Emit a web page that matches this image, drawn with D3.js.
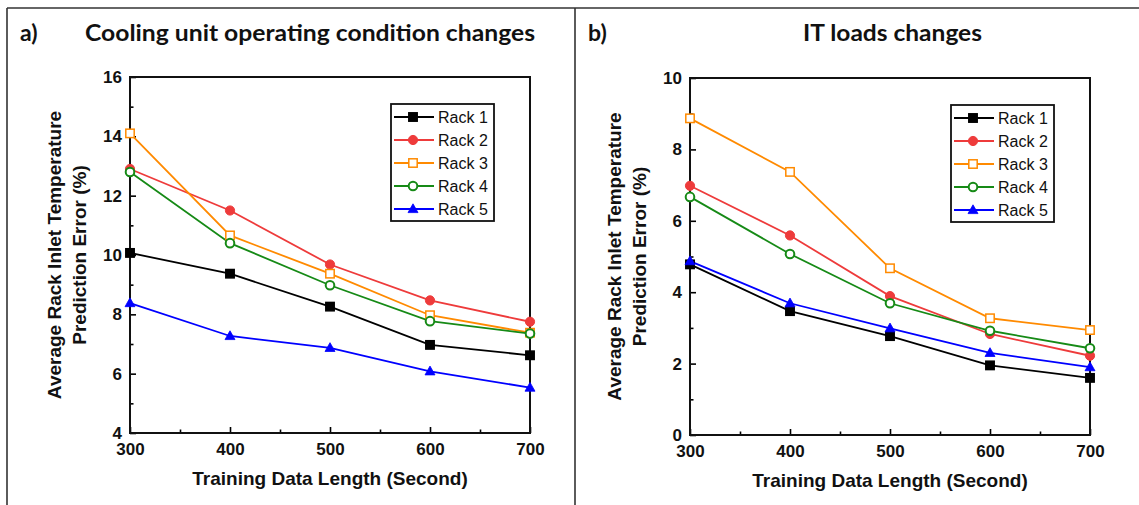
<!DOCTYPE html>
<html><head><meta charset="utf-8">
<script src="https://cdn.jsdelivr.net/npm/d3@7"></script>
<style>body{margin:0;background:#fff}svg{display:block}</style>
</head><body><svg id="c" width="1139" height="505"></svg>
<script>
const xValues = [300, 400, 500, 600, 700];
const xTicks = [300, 400, 500, 600, 700];
const seriesNames = ["Rack 1", "Rack 2", "Rack 3", "Rack 4", "Rack 5"];
const seriesColors = ["#000000", "#ee3b3b", "#ff8a00", "#168a16", "#0000ff"];
const seriesMarkers = ["squareFill", "circleFill", "squareOpen", "circleOpen", "triangleFill"];

const aRack1 = [10.07, 9.37, 8.26, 6.97, 6.62];
const aRack2 = [12.9, 11.5, 9.68, 8.47, 7.75];
const aRack3 = [14.1, 10.66, 9.37, 7.97, 7.38];
const aRack4 = [12.8, 10.4, 8.98, 7.77, 7.35];
const aRack5 = [8.38, 7.27, 6.87, 6.08, 5.53];
const aYTicks = [4, 6, 8, 10, 12, 14, 16];

const bRack1 = [4.78, 3.47, 2.77, 1.95, 1.6];
const bRack2 = [6.98, 5.59, 3.89, 2.83, 2.22];
const bRack3 = [8.87, 7.37, 4.67, 3.27, 2.94];
const bRack4 = [6.67, 5.07, 3.69, 2.92, 2.43];
const bRack5 = [4.87, 3.69, 2.99, 2.3, 1.9];
const bYTicks = [0, 2, 4, 6, 8, 10];

const xTitle = "Training Data Length (Second)";
const yTitle1 = "Average Rack Inlet Temperature";
const yTitle2 = "Prediction Error (%)";

const svg = d3.select("#c");
const FONT = "'Liberation Sans', Arial, sans-serif";

// outer frame
svg.append("line").attr("x1",7).attr("x2",1139).attr("y1",8).attr("y2",8).attr("stroke","#333").attr("stroke-width",1.6);
svg.append("line").attr("x1",7).attr("x2",7).attr("y1",8).attr("y2",505).attr("stroke","#333").attr("stroke-width",1.6);
svg.append("line").attr("x1",575).attr("x2",575).attr("y1",8).attr("y2",505).attr("stroke","#333").attr("stroke-width",1.6);

function panel(opt){
  const {left, top, right, bottom, yDomain, yTicks, yMinor, data, letter, letterX, title, titleX, titleW} = opt;
  const x = d3.scaleLinear().domain([300,700]).range([left,right]);
  const y = d3.scaleLinear().domain(yDomain).range([bottom,top]);
  const g = svg.append("g");

  // titles
  svg.append("text").attr("x",letterX).attr("y",41).text(letter)
    .attr("font-family","Lato, 'Open Sans', sans-serif").attr("font-weight","bold").attr("font-size",23).attr("fill","#111");
  svg.append("text").attr("x",titleX).attr("y",41).text(title)
    .attr("font-family","Lato, 'Open Sans', sans-serif").attr("font-weight","bold").attr("font-size",23).attr("fill","#111")
    .attr("textLength",titleW).attr("lengthAdjust","spacingAndGlyphs");

  // minor ticks
  const minorX = [350,450,550,650];
  g.append("g").attr("transform",`translate(0,${bottom})`)
    .call(d3.axisBottom(x).tickValues(minorX).tickSize(-3.5).tickFormat(""))
    .call(a=>a.select(".domain").remove())
    .call(a=>a.selectAll("line").attr("stroke-width",1.6));
  g.append("g").attr("transform",`translate(${left},0)`)
    .call(d3.axisLeft(y).tickValues(yMinor).tickSize(-3.5).tickFormat(""))
    .call(a=>a.select(".domain").remove())
    .call(a=>a.selectAll("line").attr("stroke-width",1.6));

  // major axes
  const xa = g.append("g").attr("transform",`translate(0,${bottom})`)
    .call(d3.axisBottom(x).tickValues(xTicks).tickSize(-6).tickPadding(10).tickFormat(d3.format("d")));
  xa.select(".domain").remove();
  xa.selectAll("line").attr("stroke-width",1.6);
  xa.selectAll("text").attr("font-family",FONT).attr("font-weight","bold").attr("font-size",17).attr("fill","#111");
  const ya = g.append("g").attr("transform",`translate(${left},0)`)
    .call(d3.axisLeft(y).tickValues(yTicks).tickSize(-6).tickPadding(8).tickFormat(d3.format("d")));
  ya.select(".domain").remove();
  ya.selectAll("line").attr("stroke-width",1.6);
  ya.selectAll("text").attr("font-family",FONT).attr("font-weight","bold").attr("font-size",17).attr("fill","#111");

  // box
  g.append("rect").attr("x",left).attr("y",top).attr("width",right-left).attr("height",bottom-top)
    .attr("fill","none").attr("stroke","#111").attr("stroke-width",2);

  // axis titles
  g.append("text").attr("x",(left+right)/2).attr("y",bottom+52).attr("text-anchor","middle").text(xTitle)
    .attr("font-family",FONT).attr("font-weight","bold").attr("font-size",19).attr("fill","#111");
  const cy = (top+bottom)/2;
  g.append("text").attr("transform",`translate(${left-69},${cy}) rotate(-90)`).attr("text-anchor","middle").text(yTitle1)
    .attr("font-family",FONT).attr("font-weight","bold").attr("font-size",19).attr("fill","#111");
  g.append("text").attr("transform",`translate(${left-44},${cy}) rotate(-90)`).attr("text-anchor","middle").text(yTitle2)
    .attr("font-family",FONT).attr("font-weight","bold").attr("font-size",19).attr("fill","#111");

  // series
  const line = d3.line().x((d,i)=>x(xValues[i])).y(d=>y(d));
  function marker(sel, type, color){
    if(type==="squareFill"||type==="squareOpen"){
      sel.append("rect").attr("x",-4.2).attr("y",-4.2).attr("width",8.4).attr("height",8.4)
        .attr("fill", type==="squareFill"?color:"#fff").attr("stroke",color).attr("stroke-width",1.5);
    } else if(type==="circleFill"||type==="circleOpen"){
      sel.append("circle").attr("r", type==="circleFill"?4.6:4.3)
        .attr("fill", type==="circleFill"?color:"#fff").attr("stroke",color).attr("stroke-width",type==="circleFill"?1:2);
    } else {
      sel.append("path").attr("d","M0,-5.2L5,3.6L-5,3.6Z").attr("fill",color).attr("stroke",color).attr("stroke-width",0.8);
    }
  }
  data.forEach((vals,si)=>{
    g.append("path").datum(vals).attr("d",line).attr("fill","none").attr("stroke",seriesColors[si]).attr("stroke-width",1.8);
  });
  data.forEach((vals,si)=>{
    vals.forEach((v,i)=>{
      const m = g.append("g").attr("transform",`translate(${x(xValues[i])},${y(v)})`);
      marker(m, seriesMarkers[si], seriesColors[si]);
    });
  });

  // legend
  const lx = left+261, ly = top+27;
  const lg = g.append("g").attr("transform",`translate(${lx},${ly})`);
  lg.append("rect").attr("width",103).attr("height",117).attr("fill","#fff").attr("stroke","#111").attr("stroke-width",1.8);
  seriesNames.forEach((n,i)=>{
    const ey = 13 + i*23;
    lg.append("line").attr("x1",3).attr("x2",43).attr("y1",ey).attr("y2",ey).attr("stroke",seriesColors[i]).attr("stroke-width",1.8);
    const m = lg.append("g").attr("transform",`translate(22,${ey})`);
    marker(m, seriesMarkers[i], seriesColors[i]);
    lg.append("text").attr("x",47).attr("y",ey).attr("dy","0.36em").text(n)
      .attr("font-family",FONT).attr("font-size",16).attr("fill","#111");
  });
}

panel({left:130, top:77, right:530, bottom:433, yDomain:[4,16], yTicks:aYTicks, yMinor:[5,7,9,11,13,15],
  data:[aRack1,aRack2,aRack3,aRack4,aRack5], letter:"a)", letterX:20, title:"Cooling unit operating condition changes", titleX:85, titleW:450});
panel({left:690, top:78, right:1090, bottom:435, yDomain:[0,10], yTicks:bYTicks, yMinor:[1,3,5,7,9],
  data:[bRack1,bRack2,bRack3,bRack4,bRack5], letter:"b)", letterX:588, title:"IT loads changes", titleX:803, titleW:179});
</script></body></html>
